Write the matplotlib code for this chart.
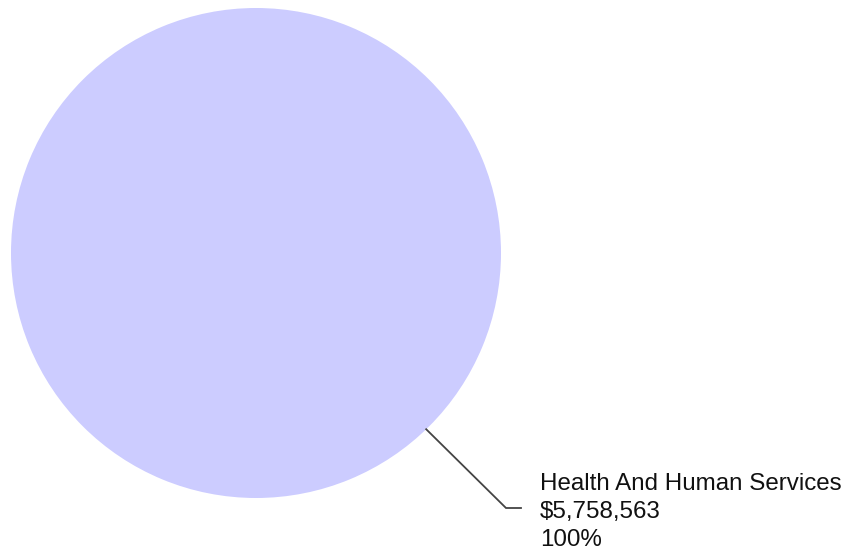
import numpy as np
import matplotlib
matplotlib.use("Agg")
import matplotlib.pyplot as plt

categories = ["Health And Human Services"]
values = [5758563]
colors = ["#ccccff"]

W, H = 851, 552
fig = plt.figure(figsize=(W / 100, H / 100), dpi=100)
ax = fig.add_axes([0, 0, 1, 1])

cx, cy, r = 256, H - 253, 245
ax.pie(values, colors=colors, center=(cx, cy), radius=r, startangle=90,
       wedgeprops=dict(linewidth=0), frame=True)
ax.set_xlim(0, W)
ax.set_ylim(0, H)
ax.set_aspect("equal")
ax.axis("off")

total = sum(values)
ang = np.deg2rad(-46)
x0, y0 = cx + r * np.cos(ang), cy + r * np.sin(ang)
x1, y1 = 506, H - 508
x2 = 521
ax.plot([x0, x1, x2], [y0, y1, y1], color="#444444", lw=1.3, solid_joinstyle="miter")

lines = [categories[0], f"${values[0]:,.0f}", f"{values[0] / total * 100:.0f}%"]
for i, s in enumerate(lines):
    ax.text(540, H - (490 + 28 * i), s, fontsize=17.4, family="Liberation Sans",
            ha="left", va="baseline", color="#111111")

fig.savefig("out.png", dpi=100)
